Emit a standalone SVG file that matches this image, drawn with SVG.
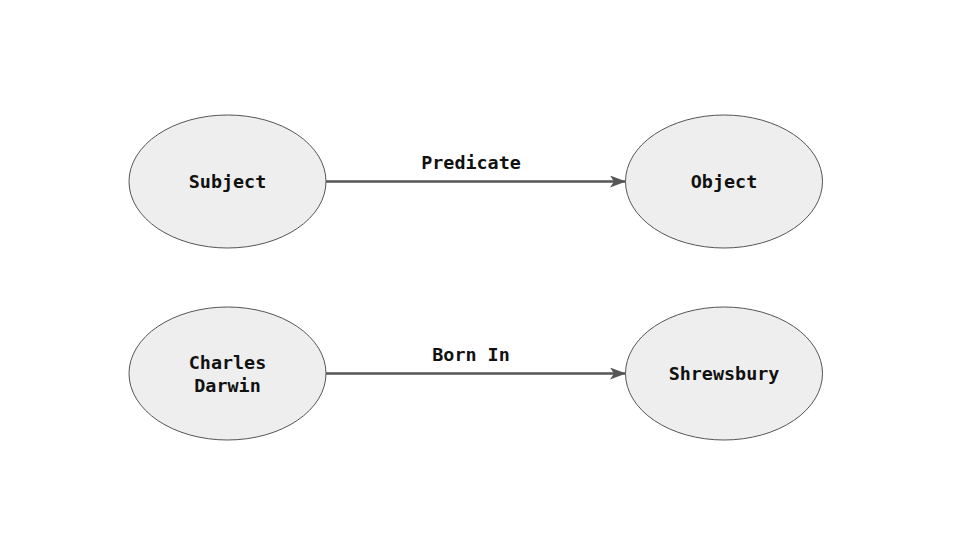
<svg xmlns="http://www.w3.org/2000/svg" width="960" height="540" viewBox="0 0 960 540">
<style>
.node ellipse{fill:#eeeeee;stroke:#555555;stroke-width:1}
text{font-family:"DejaVu Sans Mono","Liberation Mono",monospace;font-weight:bold;font-size:18.4px;fill:#111111;text-anchor:middle}
.edge line{stroke:#555555;stroke-width:2.5}
</style>
<defs>
<marker id="arr" viewBox="0 0 16 12" refX="15" refY="6" markerWidth="16" markerHeight="12" markerUnits="userSpaceOnUse" orient="auto">
<path d="M0,0 L16,6 L0,12 L4,6 Z" fill="#555555"/>
</marker>
</defs>
<rect width="960" height="540" fill="#ffffff"/>
<g id="connectors">
<g class="edge" id="e1"><line x1="326" y1="181.5" x2="625" y2="181.5" marker-end="url(#arr)"/><text x="471" y="169">Predicate</text></g>
<g class="edge" id="e2"><line x1="326" y1="373.5" x2="625" y2="373.5" marker-end="url(#arr)"/><text x="471" y="361">Born In</text></g>
</g>
<g id="subject" class="node"><ellipse cx="227.5" cy="181.5" rx="98.5" ry="66.5"/><text x="227.5" y="188">Subject</text></g>
<g id="object" class="node"><ellipse cx="724" cy="181.5" rx="98.5" ry="66.5"/><text x="724" y="188">Object</text></g>
<g id="darwin" class="node"><ellipse cx="227.5" cy="373.5" rx="98.5" ry="66.5"/><text x="227.5" y="369">Charles</text><text x="227.5" y="392">Darwin</text></g>
<g id="shrewsbury" class="node"><ellipse cx="724" cy="373.5" rx="98.5" ry="66.5"/><text x="724" y="380">Shrewsbury</text></g>
</svg>
